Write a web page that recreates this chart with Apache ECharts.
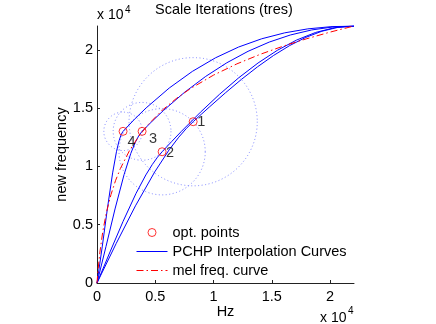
<!DOCTYPE html>
<html>
<head>
<meta charset="utf-8">
<script src="https://cdn.jsdelivr.net/npm/echarts@6/dist/echarts.min.js"></script>
<style>
  html, body { margin: 0; padding: 0; background: #fff; }
  #chart { width: 436px; height: 324px; }
</style>
</head>
<body>
<div id="chart"></div>
<script>
// optimal points, in iteration order
const optX = [8251, 5587, 3868, 2235];
const optY = [13838, 11260, 13013, 13013];
const optLabels = ['1', '2', '3', '4'];
// search radius (dotted circles) around each point
const searchRadius = [5500, 3700, 2480, 1650];

// PCHP interpolation curves, one per opt point
const curve1X = [0, 1650, 3300, 4951, 6188, 7013, 7673, 8251, 8941, 9631, 11011, 12391, 13771, 15151, 16530, 17910, 19290, 20670, 22050];
const curve1Y = [0, 3396, 6620, 9529, 11421, 12507, 13266, 13838, 14468, 15091, 16308, 17468, 18547, 19522, 20371, 21071, 21600, 21934, 22050];
const curve2X = [0, 1117, 2235, 3352, 4190, 4749, 5196, 5587, 6410, 7233, 8880, 10526, 12172, 13819, 15465, 17111, 18757, 20404, 22050];
const curve2Y = [0, 2666, 5284, 7694, 9271, 10173, 10798, 11260, 12140, 13002, 14657, 16203, 17617, 18877, 19958, 20839, 21497, 21908, 22050];
const curve3X = [0, 774, 1547, 2321, 2901, 3288, 3597, 3868, 4777, 5686, 7504, 9323, 11141, 12959, 14777, 16595, 18414, 20232, 22050];
const curve3Y = [0, 3140, 6352, 9293, 11121, 12075, 12659, 13013, 13926, 14786, 16355, 17723, 18896, 19877, 20670, 21280, 21710, 21966, 22050];
const curve4X = [0, 447, 894, 1341, 1676, 1900, 2079, 2235, 3226, 4217, 6198, 8180, 10161, 12143, 14124, 16106, 18087, 20069, 22050];
const curve4Y = [0, 3096, 6395, 9446, 11303, 12229, 12748, 13013, 14058, 15023, 16729, 18153, 19317, 20243, 20951, 21464, 21804, 21992, 22050];

// mel frequency curve
const melX = [0, 100, 250, 500, 800, 1200, 1600, 2000, 2800, 3600, 4400, 5600, 6800, 8000, 10000, 12000, 14000, 16000, 18000, 20000, 22050];
const melY = [0, 1222, 2658, 4440, 6015, 7590, 8811, 9809, 11385, 12606, 13604, 14826, 15824, 16668, 17837, 18800, 19619, 20331, 20961, 21526, 22050];

const ticks = [0, 5000, 10000, 15000, 20000];
const fmax = 22050;

const FONT = '"Liberation Sans", Arial, sans-serif';
const BLUE = '#0000ff';
const RED = '#ff0000';
const CIRCLE = 'rgba(95,105,255,0.8)';
const MEL_DASH = [7, 3, 1.5, 3];
// label offsets next to each opt point (px)
const labelOffsets = [[8, 0], [8, 1], [11, 8], [8.5, 10.5]];

const zip = (xs, ys) => xs.map((x, i) => [x, ys[i]]);

const chart = echarts.init(document.getElementById('chart'), null, { renderer: 'canvas' });

const axisCommon = {
  type: 'value',
  min: 0,
  max: fmax,
  axisLine: { show: true, lineStyle: { color: '#222', width: 1 } },
  axisTick: { show: true, inside: true, length: 3, customValues: ticks, lineStyle: { color: '#222' } },
  axisLabel: {
    customValues: ticks,
    formatter: v => String(v / 10000),
    color: '#000',
    fontSize: 14.5,
    fontFamily: FONT
  },
  splitLine: { show: false },
  nameMoveOverlap: false,
  nameTextStyle: { color: '#000', fontSize: 14.5, fontFamily: FONT }
};

const curveSeries = [curve1X, curve2X, curve3X, curve4X].map((xs, i) => ({
  name: 'PCHP Interpolation Curves',
  type: 'line',
  data: zip(xs, [curve1Y, curve2Y, curve3Y, curve4Y][i]),
  symbol: 'none',
  lineStyle: { color: BLUE, width: 1 },
  itemStyle: { color: BLUE },
  z: 3
}));

const option = {
  animation: false,
  title: {
    text: 'Scale Iterations (tres)',
    left: 155,
    top: 2,
    padding: 0,
    textStyle: { fontSize: 14.5, fontWeight: 'normal', color: '#000', fontFamily: FONT }
  },
  grid: { left: 97, right: 82, top: 26, bottom: 41, outerBoundsMode: 'none' },
  xAxis: Object.assign({}, axisCommon, {
    name: 'Hz',
    nameLocation: 'middle',
    nameGap: 21,
    axisLabel: Object.assign({}, axisCommon.axisLabel, { margin: 6 })
  }),
  yAxis: Object.assign({}, axisCommon, {
    name: 'new frequency',
    nameLocation: 'middle',
    nameRotate: 90,
    nameGap: 28,
    axisLabel: Object.assign({}, axisCommon.axisLabel, { margin: 4 })
  }),
  legend: {
    orient: 'vertical',
    left: 131,
    top: 220,
    itemWidth: 31,
    itemHeight: 8,
    itemGap: 4,
    selectedMode: false,
    textStyle: { fontSize: 14.5, color: '#000', fontFamily: FONT },
    data: [
      { name: 'opt. points', icon: 'circle', itemStyle: { color: 'rgba(0,0,0,0)', borderColor: RED, borderWidth: 1 } },
      { name: 'PCHP Interpolation Curves', itemStyle: { opacity: 0 }, lineStyle: { width: 1, color: BLUE } },
      { name: 'mel freq. curve', itemStyle: { opacity: 0 }, lineStyle: { width: 1, color: RED, type: MEL_DASH } }
    ]
  },
  graphic: [
    { type: 'text', left: 97, top: 8, style: { text: 'x 10', fontSize: 14, fontFamily: FONT, fill: '#000' } },
    { type: 'text', left: 125, top: 5, style: { text: '4', fontSize: 10, fontFamily: FONT, fill: '#000' } },
    { type: 'text', left: 320, top: 311, style: { text: 'x 10', fontSize: 14, fontFamily: FONT, fill: '#000' } },
    { type: 'text', left: 348, top: 306, style: { text: '4', fontSize: 10, fontFamily: FONT, fill: '#000' } }
  ],
  series: [
    {
      name: 'search radius',
      type: 'custom',
      coordinateSystem: 'cartesian2d',
      data: optX.map((x, i) => [x, optY[i], searchRadius[i]]),
      renderItem: (params, api) => {
        const c = api.coord([api.value(0), api.value(1)]);
        const r = api.size([api.value(2), 0])[0];
        return {
          type: 'circle',
          shape: { cx: c[0], cy: c[1], r: r },
          style: { fill: 'none', stroke: CIRCLE, lineWidth: 1, lineDash: [1, 2.5] }
        };
      },
      clip: false,
      silent: true,
      z: 1
    },
    ...curveSeries,
    {
      name: 'mel freq. curve',
      type: 'line',
      data: zip(melX, melY),
      symbol: 'none',
      lineStyle: { color: RED, width: 1, type: MEL_DASH },
      itemStyle: { color: RED },
      z: 4
    },
    {
      name: 'opt. points',
      type: 'scatter',
      data: optX.map((x, i) => ({
        value: [x, optY[i]],
        label: { offset: labelOffsets[i] }
      })),
      symbol: 'circle',
      symbolSize: 8,
      itemStyle: { color: 'rgba(0,0,0,0)', borderColor: RED, borderWidth: 1 },
      label: {
        show: true,
        position: 'inside',
        align: 'center',
        verticalAlign: 'middle',
        formatter: p => optLabels[p.dataIndex],
        color: '#000',
        fontSize: 14.5,
        fontFamily: FONT
      },
      z: 5
    }
  ]
};

chart.setOption(option);
</script>
</body>
</html>
